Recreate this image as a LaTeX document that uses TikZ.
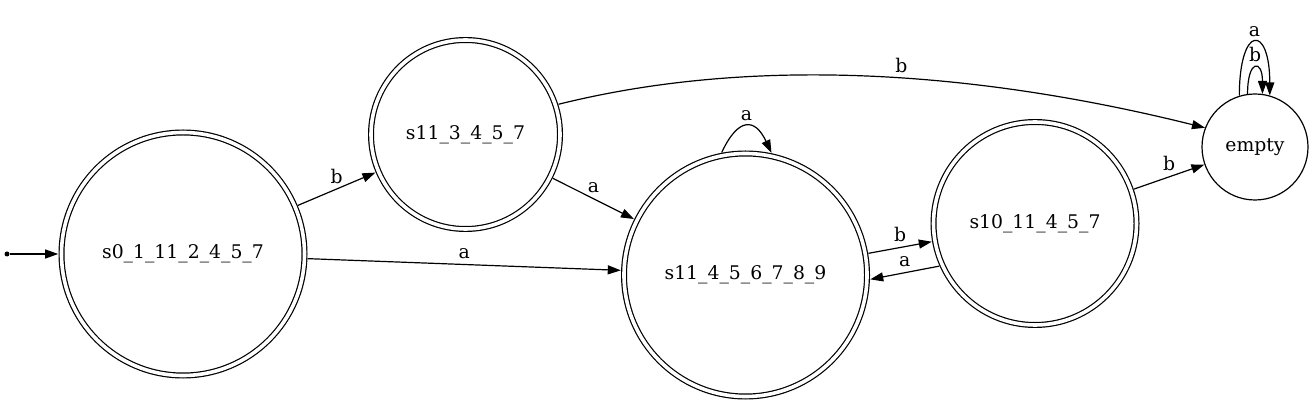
\documentclass[tikz,border=0pt]{standalone}
\usepackage{fontspec}
\setmainfont{DejaVu Serif}
\usetikzlibrary{arrows.meta}

\begin{document}
\begin{tikzpicture}[x=1pt,y=1pt,line width=1.2pt,font=\fontsize{18.8}{22}\selectfont,
  >={Triangle[length=13pt,width=9pt]},
  state/.style={draw, circle, inner sep=0pt},
  accepting/.style={state, double, double distance=3.6pt, outer sep=3.3pt},
  lbl/.style={above=4pt, inner sep=1pt}]
  \useasboundingbox (0,0) rectangle (1313,404);

  \node (init) [circle, fill, inner sep=0pt, minimum size=5pt] at (7,150) {};
  \node (s0) [accepting, minimum size=243pt] at (183,150) {s0\_1\_11\_2\_4\_5\_7};
  \node (s113) [accepting, minimum size=189pt] at (465.5,269.5) {s11\_3\_4\_5\_7};
  \node (s114) [accepting, minimum size=243pt] at (745.5,129) {s11\_4\_5\_6\_7\_8\_9};
  \node (s1011) [accepting, minimum size=203pt] at (1035,180.5) {s10\_11\_4\_5\_7};
  \node (empty) [state, minimum size=106pt] at (1255,257) {empty};

  \draw[->] (init) -- (s0);
  \draw[->] (s0) -- node[lbl] {b} (s113);
  \draw[->] (s0) -- node[lbl] {a} (s114);
  \draw[->] (s113) -- node[lbl] {a} (s114);
  \draw[->] (s113.18) to[out=14,in=166,looseness=0.85] node[lbl,pos=0.53] {b} (empty.159);
  \draw[->] (s114.101) to[out=65,in=115,looseness=2] node[lbl] {a} (s114.78);
  \draw[->] (s114.10) -- node[lbl] {b} (s1011.190);
  \draw[->] (s1011.204) -- node[lbl] {a} (s114.-2);
  \draw[->] (s1011) -- node[lbl] {b} (empty);
  \draw[->] (empty.107) to[out=90,in=90,looseness=6] node[lbl] {a} (empty.74);
  \draw[->] (empty.98) to[out=90,in=90,looseness=6] node[lbl] {b} (empty.82.5);

\end{tikzpicture}
\end{document}
